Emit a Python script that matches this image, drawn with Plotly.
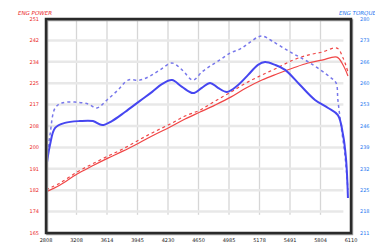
import plotly.graph_objects as go

x_labels = ["2808", "3208", "3614", "3945", "4230", "4650", "4985", "5178", "5491", "5804", "6110"]
power_ticks = [165, 174, 182, 191, 200, 208, 217, 225, 234, 242, 251]
torque_ticks = [211, 218, 225, 232, 239, 246, 253, 260, 266, 273, 280]

pw_a_x = [0, 0.46, 1.02, 1.51, 2.03, 2.52, 3.05, 3.54, 4.07, 4.56, 5.05, 5.54, 6.07, 6.56, 7.08, 7.57, 8.1, 8.59, 9.05, 9.54, 9.74, 9.9]
pw_a_y = [181.5, 184.3, 188.7, 191.9, 195.1, 197.9, 201.2, 204.4, 207.6, 210.8, 213.6, 216.4, 219.7, 223.3, 226.5, 228.9, 231.3, 233.3, 234.5, 235.7, 232.5, 228.1]

pw_b_x = [0, 0.46, 1.02, 1.51, 2.03, 2.52, 3.05, 3.54, 4.07, 4.56, 5.05, 5.54, 6.07, 6.56, 7.08, 7.57, 8.1, 8.59, 9.05, 9.54, 9.74, 9.9]
pw_b_y = [182.3, 185.1, 189.5, 192.7, 195.9, 198.8, 202.4, 205.6, 208.8, 212.0, 214.4, 218.0, 221.7, 225.3, 228.5, 231.3, 234.5, 236.5, 237.7, 239.3, 235.3, 229.7]

tq_a_x = [0, 0.13, 0.3, 0.62, 1.11, 1.54, 1.84, 2.16, 2.59, 3.08, 3.48, 3.8, 4.13, 4.46, 4.82, 5.11, 5.38, 5.64, 5.93, 6.26, 6.62, 6.95, 7.18, 7.51, 7.84, 8.33, 8.82, 9.25, 9.57, 9.74, 9.84, 9.9]
tq_a_y = [231.3, 239.4, 244.9, 246.5, 247.1, 247.1, 245.8, 247.1, 250.0, 253.6, 256.5, 259.0, 260.3, 258.1, 256.1, 257.8, 259.4, 257.8, 256.5, 258.4, 261.9, 265.2, 266.1, 265.2, 263.6, 258.7, 253.9, 251.3, 249.0, 242.6, 234.5, 222.3]

tq_b_x = [0, 0.13, 0.3, 0.52, 0.95, 1.38, 1.67, 2.0, 2.36, 2.69, 3.08, 3.41, 3.74, 4.13, 4.46, 4.82, 5.11, 5.38, 5.7, 6.03, 6.36, 6.62, 6.95, 7.11, 7.41, 8.0, 8.66, 9.31, 9.51, 9.57, 9.67, 9.8, 9.9]
tq_b_y = [232.9, 242.6, 251.3, 252.9, 253.2, 252.6, 251.3, 253.9, 257.1, 260.3, 260.3, 261.6, 263.6, 265.8, 263.6, 260.3, 262.9, 264.8, 266.8, 269.0, 270.3, 272.0, 274.2, 274.5, 272.9, 269.4, 265.8, 261.3, 259.4, 253.9, 245.8, 236.2, 224.9]

RED = "rgb(240,70,70)"
BLUE = "rgb(70,70,240)"
BLUE_L = "rgb(120,120,235)"

fig = go.Figure()
fig.add_trace(go.Scatter(x=tq_b_x, y=tq_b_y, yaxis="y2", mode="lines", line=dict(color=BLUE_L, width=1.5, dash="dot", shape="spline")))
fig.add_trace(go.Scatter(x=tq_a_x, y=tq_a_y, yaxis="y2", mode="lines", line=dict(color=BLUE, width=2, shape="spline")))
fig.add_trace(go.Scatter(x=pw_b_x, y=pw_b_y, mode="lines", line=dict(color=RED, width=1.2, dash="dot", shape="spline")))
fig.add_trace(go.Scatter(x=pw_a_x, y=pw_a_y, mode="lines", line=dict(color=RED, width=1.2, shape="spline")))

shapes = []
for i in range(1, 10):
    shapes.append(dict(type="line", xref="x", yref="paper", x0=i, x1=i, y0=0.085, y1=1, line=dict(color="#d6d6d6", width=1.3), layer="below"))
for k in range(1, 10):
    yv = power_ticks[0] + (power_ticks[-1] - power_ticks[0]) * k / 10
    shapes.append(dict(type="line", xref="paper", yref="y", x0=0, x1=0.975, y0=yv, y1=yv, line=dict(color="#e8e8e8", width=2.5), layer="below"))
shapes.append(dict(type="rect", xref="paper", yref="paper", x0=0.004, x1=1.004, y0=-0.006, y1=0.994, line=dict(color="#9a9a9a", width=2)))
shapes.append(dict(type="rect", xref="paper", yref="paper", x0=0, x1=1, y0=0, y1=1, line=dict(color="#2a2a2a", width=2.5)))

fig.update_layout(
    width=375, height=235,
    margin=dict(l=38, r=32, t=11, b=10, autoexpand=False),
    paper_bgcolor="white", plot_bgcolor="white",
    showlegend=False,
    shapes=shapes,
    xaxis=dict(range=[0, 10], tickvals=list(range(11)), ticktext=x_labels, showgrid=False, zeroline=False, automargin=False,
               tickfont=dict(size=5, color="#222", family="DejaVu Sans"), ticks="", ticklabelstandoff=3),
    yaxis=dict(range=[165, 251], tickvals=[165 + 8.6 * k for k in range(11)], ticktext=[str(v) for v in power_ticks], automargin=False,
               showgrid=False, zeroline=False, tickfont=dict(size=5, color="rgb(235,40,40)", family="DejaVu Sans"), ticks="", ticklabelstandoff=6),
    yaxis2=dict(range=[211, 280], overlaying="y", side="right", tickvals=[211 + 6.9 * k for k in range(11)], ticktext=[str(v) for v in torque_ticks], automargin=False,
                showgrid=False, zeroline=False, tickfont=dict(size=5, color="rgb(40,120,240)", family="DejaVu Sans"), ticks="", ticklabelstandoff=8),
    annotations=[
        dict(text="<i>ENG POWER</i>", xref="paper", yref="paper", x=-0.10, y=1.051, xanchor="left", yanchor="top", showarrow=False,
             font=dict(size=5.5, color="rgb(235,40,40)", family="DejaVu Sans")),
        dict(text="<i>ENG TORQUE</i>", xref="paper", yref="paper", x=1.09, y=1.051, xanchor="right", yanchor="top", showarrow=False,
             font=dict(size=5.5, color="rgb(40,120,240)", family="DejaVu Sans")),
    ],
)
fig.write_html("out.html")
